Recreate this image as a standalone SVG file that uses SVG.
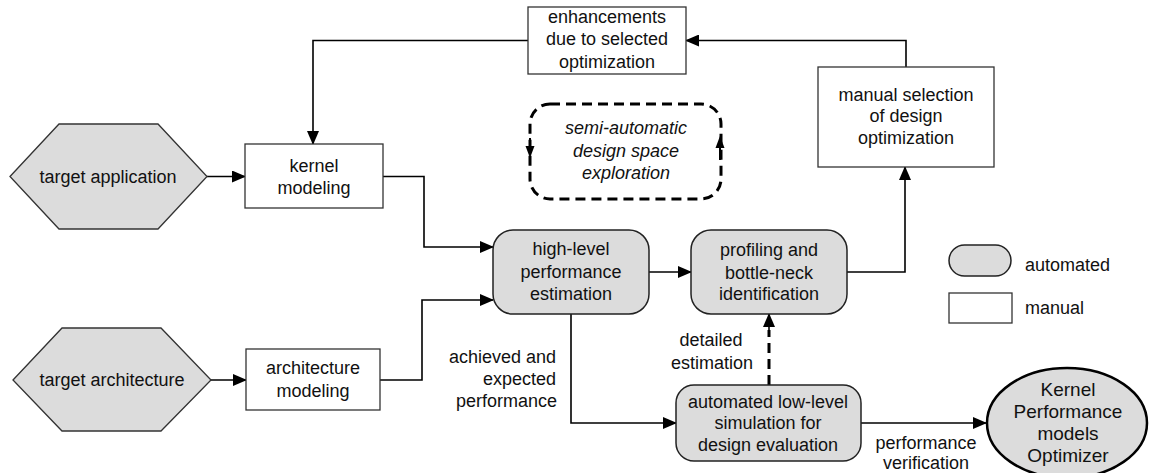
<svg xmlns="http://www.w3.org/2000/svg" width="1151" height="473" viewBox="0 0 1151 473">
<style>
text{font-family:"Liberation Sans",Arial,sans-serif;font-size:18px;fill:#111;text-anchor:middle}
.auto{fill:#dcdcdc;stroke:#222;stroke-width:1.5}
.man{fill:#fff;stroke:#333;stroke-width:1.3}
.hex{fill:#dcdcdc;stroke:#333;stroke-width:1.3}
.c{fill:none;stroke:#000;stroke-width:1.6}
.cd{fill:none;stroke:#000;stroke-width:3;stroke-dasharray:10 6}
.it{font-style:italic}
.r{text-anchor:end}
.l{text-anchor:start}
.big{font-size:19px}
</style>
<defs>
<marker id="ah" markerUnits="userSpaceOnUse" markerWidth="14" markerHeight="12" refX="13" refY="6" orient="auto">
<path d="M0,0 L14,6 L0,12 Z" fill="#000"/>
</marker>
</defs>

<g id="connectors">
<path class="c" d="M207,176.5 H245" marker-end="url(#ah)"/>
<path class="c" d="M528,40.5 H313 V144" marker-end="url(#ah)"/>
<path class="c" d="M906,67 V40.5 H686" marker-end="url(#ah)"/>
<path class="c" d="M383,176.5 H424 V247 H493" marker-end="url(#ah)"/>
<path class="c" d="M380,380 H422 V300 H493" marker-end="url(#ah)"/>
<path class="c" d="M211,380 H246" marker-end="url(#ah)"/>
<path class="c" d="M649,272 H691" marker-end="url(#ah)"/>
<path class="c" d="M847,272 H905 V167" marker-end="url(#ah)"/>
<path class="c" d="M571,314 V423 H676" marker-end="url(#ah)"/>
<path class="cd" d="M769,385 V330"/>
<path class="c" d="M769,332 V314" stroke-width="3" marker-end="url(#ah)"/>
<path class="c" d="M861,423 H986" marker-end="url(#ah)"/>
<text class="r" x="556" y="363">achieved and</text>
<text class="r" x="556" y="385">expected</text>
<text class="r" x="557" y="407">performance</text>
<text x="711" y="346">detailed</text>
<text x="712" y="369">estimation</text>
<text x="926" y="449">performance</text>
<text x="926" y="469">verification</text>
</g>

<g id="target-application">
<polygon class="hex" points="10,176.5 59,124 158,124 207,176.5 158,229 59,229"/>
<text x="108" y="182.5">target application</text>
</g>

<g id="target-architecture">
<polygon class="hex" points="13,380 62,328 161,328 211,380 161,431 62,431"/>
<text x="112" y="386">target architecture</text>
</g>

<g id="kernel-modeling">
<rect class="man" x="245" y="144" width="138" height="64"/>
<text x="314" y="172">kernel</text>
<text x="314" y="194">modeling</text>
</g>

<g id="architecture-modeling">
<rect class="man" x="246" y="349" width="134" height="61"/>
<text x="313" y="374">architecture</text>
<text x="313" y="397">modeling</text>
</g>

<g id="enhancements">
<rect class="man" x="528" y="7" width="158" height="67"/>
<text x="607" y="23">enhancements</text>
<text x="607" y="45">due to selected</text>
<text x="607" y="68">optimization</text>
</g>

<g id="manual-selection">
<rect class="man" x="818" y="67" width="176" height="100"/>
<text x="906" y="101">manual selection</text>
<text x="906" y="122">of design</text>
<text x="906" y="144">optimization</text>
</g>

<g id="dse">
<rect x="530" y="104" width="191" height="95" rx="20" ry="20" fill="none" stroke="#000" stroke-width="3" stroke-dasharray="10 6"/>
<path d="M530,138 V150" stroke="#000" stroke-width="2"/>
<polygon points="525.5,146 534.5,146 530,158" fill="#000"/>
<path d="M720,145 V160" stroke="#000" stroke-width="2"/>
<polygon points="715.5,148 724.5,148 720,136" fill="#000"/>
<text class="it" x="626" y="134">semi-automatic</text>
<text class="it" x="626" y="157">design space</text>
<text class="it" x="626" y="179">exploration</text>
</g>

<g id="high-level">
<rect class="auto" x="493" y="230" width="156" height="84" rx="20" ry="20"/>
<text x="571" y="255">high-level</text>
<text x="571" y="278">performance</text>
<text x="571" y="300">estimation</text>
</g>

<g id="profiling">
<rect class="auto" x="691" y="230" width="156" height="84" rx="20" ry="20"/>
<text x="769" y="256">profiling and</text>
<text x="769" y="279">bottle-neck</text>
<text x="769" y="300">identification</text>
</g>

<g id="low-level">
<rect class="auto" x="676" y="385" width="185" height="76" rx="18" ry="18"/>
<text x="768" y="408">automated low-level</text>
<text x="768" y="429">simulation for</text>
<text x="768" y="451">design evaluation</text>
</g>

<g id="optimizer">
<ellipse cx="1067" cy="423" rx="80" ry="55" fill="#dcdcdc" stroke="#000" stroke-width="2.5"/>
<text class="big" x="1068" y="396">Kernel</text>
<text class="big" x="1068" y="418">Performance</text>
<text class="big" x="1068" y="440">models</text>
<text class="big" x="1068" y="462">Optimizer</text>
</g>

<g id="legend">
<rect class="auto" x="949" y="245" width="62" height="31" rx="15.5" ry="15.5" stroke-width="1.2"/>
<text class="l" x="1025" y="271">automated</text>
<rect class="man" x="949" y="293" width="63" height="30"/>
<text class="l" x="1025" y="314">manual</text>
</g>
</svg>
